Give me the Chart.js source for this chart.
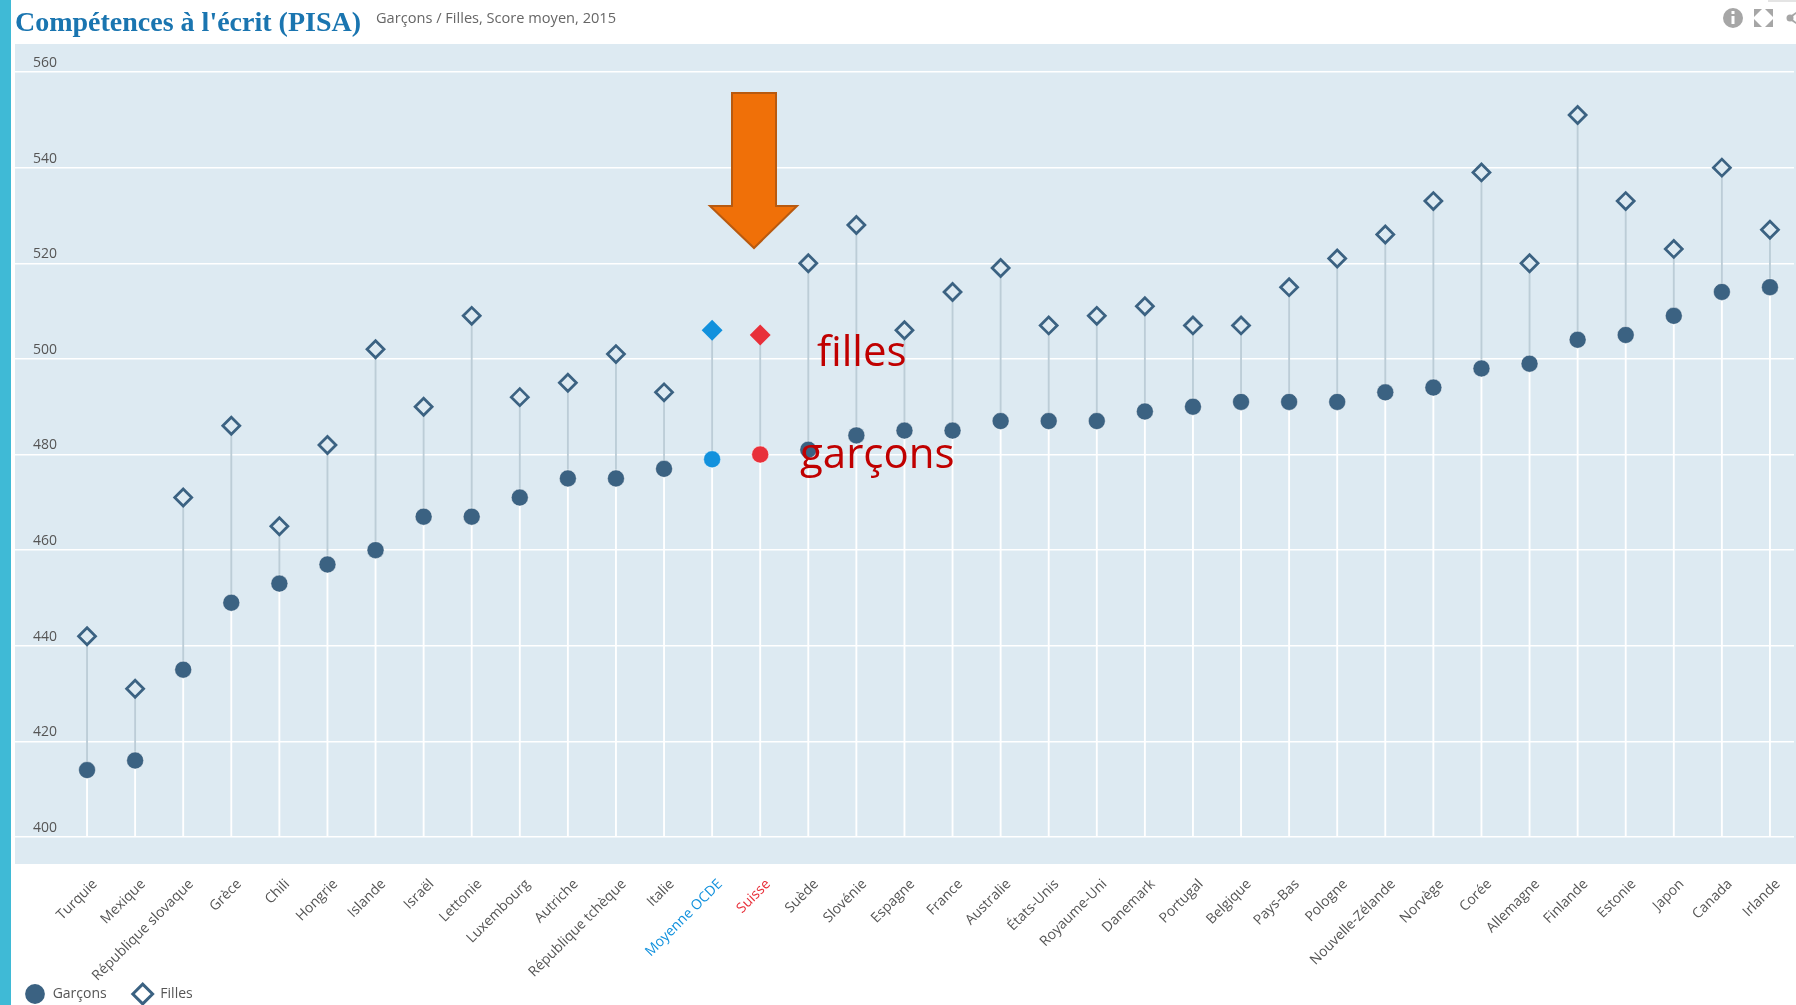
<!DOCTYPE html>
<html lang="fr">
<head>
<meta charset="utf-8">
<title>Compétences à l'écrit (PISA)</title>
<script src="https://cdn.jsdelivr.net/npm/chart.js@4"></script>
<style>
    body { margin: 0; background: #fff; width: 1796px; height: 1005px; overflow: hidden; position: relative; font-family: "Open Sans", sans-serif; }
    #bande { position: absolute; left: 0; top: 0; width: 11px; height: 1005px; background: #3fbad6; }
    #fond { position: absolute; left: 15px; top: 44px; width: 1781px; height: 820px; background: #ddeaf2; }
    #graficoPisa { position: absolute; left: 0; top: 0; }
    #titre { position: absolute; left: 15px; top: 6px; font: bold 28px "Liberation Serif", serif; color: #1a75b0; white-space: nowrap; }
    #sousTitre { position: absolute; left: 376px; top: 7px; font-size: 14.6px; color: #666; white-space: nowrap; }
    .note { position: absolute; color: #c00000; font-size: 42px; line-height: 1; white-space: nowrap; }
    svg { position: absolute; left: 0; top: 0; }
</style>
</head>
<body>
<div id="bande"></div>
<div id="fond"></div>
<canvas id="graficoPisa" width="1796" height="1005"></canvas>
<div id="titre">Compétences à l'écrit (PISA)</div>
<div id="sousTitre">Garçons / Filles, Score moyen, 2015</div>
<svg width="1796" height="1005">
    <!-- fleche orange -->
    <polygon points="732,93 776,93 776,206 797,206 754,248 710,206 732,206" fill="#f07008" stroke="#b85a10" stroke-width="2"/>
    <!-- icones -->
    <circle cx="1733" cy="18" r="10" fill="#a6a6a6"/>
    <rect x="1731.5" y="16" width="3" height="8" fill="#fff"/>
    <rect x="1731.5" y="11" width="3" height="3" fill="#fff"/>
    <g fill="#a6a6a6">
        <polygon points="1754,9 1762,9 1754,17"/>
        <polygon points="1773,9 1765,9 1773,17"/>
        <polygon points="1754,27 1762,27 1754,19"/>
        <polygon points="1773,27 1765,27 1773,19"/>
        <circle cx="1790" cy="18" r="3.5"/>
        <polygon points="1790,16 1796,12 1796,14 1791,18 1796,22 1796,24 1790,20"/>
        <rect x="1768" y="0" width="28" height="2" fill="#e4e4e4"/>
    </g>
</svg>
<div class="note" style="left:817px;top:329px">filles</div>
<div class="note" style="left:800px;top:431px">garçons</div>

<script>
var categories = ['Turquie', 'Mexique', 'République slovaque', 'Grèce', 'Chili', 'Hongrie', 'Islande', 'Israël', 'Lettonie', 'Luxembourg', 'Autriche', 'République tchèque', 'Italie', 'Moyenne OCDE', 'Suisse', 'Suède', 'Slovénie', 'Espagne', 'France', 'Australie', 'États-Unis', 'Royaume-Uni', 'Danemark', 'Portugal', 'Belgique', 'Pays-Bas', 'Pologne', 'Nouvelle-Zélande', 'Norvège', 'Corée', 'Allemagne', 'Finlande', 'Estonie', 'Japon', 'Canada', 'Irlande'];
var garcons = [414, 416, 435, 449, 453, 457, 460, 467, 467, 471, 475, 475, 477, 479, 480, 481, 484, 485, 485, 487, 487, 487, 489, 490, 491, 491, 491, 493, 494, 498, 499, 504, 505, 509, 514, 515];
var filles = [442, 431, 471, 486, 465, 482, 502, 490, 509, 492, 495, 501, 493, 506, 505, 520, 528, 506, 514, 519, 507, 509, 511, 507, 507, 515, 521, 526, 533, 539, 520, 551, 533, 523, 540, 527];
var yTicks = [400, 420, 440, 460, 480, 500, 520, 540, 560];

var BLEU = '#3b6282';
var FOND = '#ddeaf2';

// Moyenne OCDE et Suisse ont leur propre couleur
function couleur(i, defaut) {
    if (categories[i] === 'Moyenne OCDE') return '#1291dd';
    if (categories[i] === 'Suisse') return '#e8303a';
    return defaut;
}

// les etiquettes de l'axe x ne doivent pas etre coupees, et la legende reste en bas a gauche
var placement = {
    id: 'placement',
    afterLayout: function (chart) {
        chart.scales.x.bottom = chart.height;
        chart.legend.left = -1;
        chart.legend.top += 6;
    }
};

var ctx = document.getElementById('graficoPisa').getContext('2d');
var graficoPisa = new Chart(ctx, {
    plugins: [placement],
    data: {
        labels: categories,
        datasets: [{
            type: 'line',
            label: 'Garçons',
            data: garcons,
            showLine: false,
            order: 1,
            pointStyle: 'circle',
            pointRadius: 8.5,
            pointBackgroundColor: categories.map(function (c, i) { return couleur(i, BLEU); }),
            pointBorderColor: 'rgba(255,255,255,0.45)',
            pointBorderWidth: 1
        }, {
            type: 'line',
            label: 'Filles',
            data: filles,
            showLine: false,
            order: 1,
            pointStyle: 'rectRot',
            pointRadius: 8.5,
            pointBackgroundColor: categories.map(function (c, i) { return couleur(i, FOND); }),
            pointBorderColor: categories.map(function (c, i) { return couleur(i, BLEU); }),
            pointBorderWidth: 2.75
        }, {
            type: 'bar',
            label: 'ecart',
            data: categories.map(function (c, i) { return [garcons[i], filles[i]]; }),
            backgroundColor: '#bccdd7',
            barThickness: 1.2,
            grouped: false,
            order: 2
        }, {
            type: 'bar',
            label: 'base',
            data: categories.map(function (c, i) { return [yTicks[0], garcons[i]]; }),
            backgroundColor: '#ffffff',
            barThickness: 1.2,
            grouped: false,
            order: 2
        }]
    },
    options: {
        responsive: false,
        animation: false,
        layout: { autoPadding: false, padding: { top: 72, right: 2, bottom: 0, left: 0 } },
        scales: {
            x: {
                offset: true,
                grid: { display: false },
                border: { display: false },
                ticks: {
                    autoSkip: false,
                    minRotation: 45,
                    maxRotation: 45,
                    padding: 31,
                    labelOffset: 8,
                    font: { family: 'Open Sans', size: 14 },
                    color: function (c) { return couleur(c.index, '#555'); }
                },
                afterFit: function (scale) {
                    scale.height = 115;
                    scale.paddingLeft = 0;
                    scale.paddingRight = 0;
                }
            },
            y: {
                min: yTicks[0],
                max: yTicks[yTicks.length - 1],
                grid: { color: '#ffffff', lineWidth: 1.5, tickColor: '#ffffff', tickWidth: 1.5, tickLength: 48 },
                border: { display: false },
                ticks: {
                    stepSize: 20,
                    align: 'end',
                    labelOffset: -2,
                    padding: -42,
                    font: { family: 'Open Sans', size: 14 },
                    color: '#555'
                },
                afterFit: function (scale) { scale.width = 63; }
            }
        },
        plugins: {
            tooltip: { enabled: false },
            legend: {
                position: 'bottom',
                align: 'start',
                labels: {
                    usePointStyle: true,
                    font: { family: 'Open Sans', size: 14 },
                    color: '#555',
                    padding: 29,
                    generateLabels: function () {
                        return [
                            { text: ' Garçons', pointStyle: 'circle', fillStyle: BLEU, strokeStyle: BLEU, lineWidth: 0, fontColor: '#555', datasetIndex: 0 },
                            { text: ' Filles', pointStyle: 'rectRot', fillStyle: '#ffffff', strokeStyle: BLEU, lineWidth: 3, fontColor: '#555', datasetIndex: 1 }
                        ];
                    }
                }
            }
        }
    }
});
</script>
</body>
</html>
